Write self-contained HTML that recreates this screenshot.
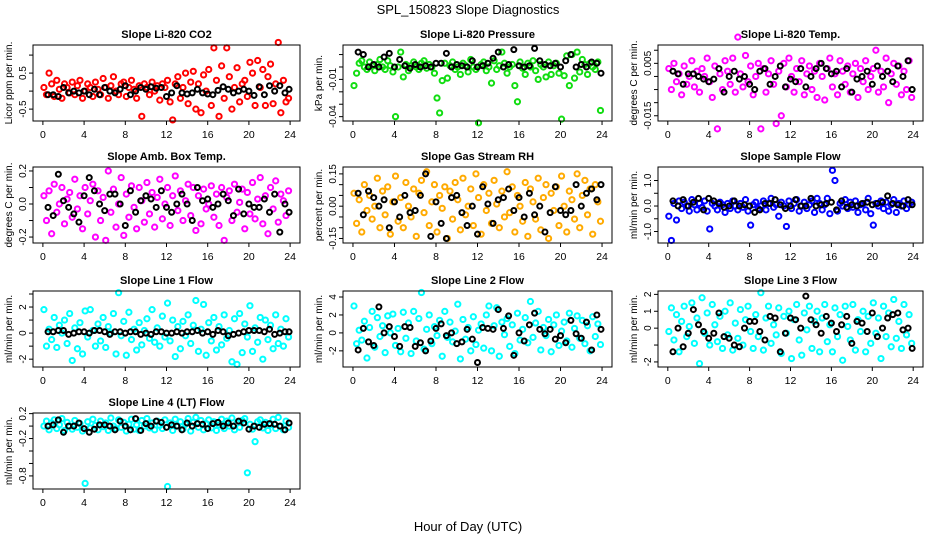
<!DOCTYPE html>
<html><head><meta charset="utf-8"><style>
html,body{margin:0;padding:0;background:#fff;}
svg{display:block;font-family:"Liberation Sans",sans-serif;}
</style></head><body>
<svg id="chart" width="936" height="540" viewBox="0 0 936 540" xmlns="http://www.w3.org/2000/svg">
<text x="468" y="14" font-size="13" text-anchor="middle">SPL_150823  Slope Diagnostics</text>
<text x="468" y="531" font-size="13" text-anchor="middle">Hour of Day (UTC)</text>
</svg>
<script>
const hoursColor = [0.1,0.35,0.6,0.85,1.1,1.35,1.6,1.85,2.1,2.35,2.6,2.85,3.1,3.35,3.6,3.85,4.1,4.35,4.6,4.85,5.1,5.35,5.6,5.85,6.1,6.35,6.6,6.85,7.1,7.35,7.6,7.85,8.1,8.35,8.6,8.85,9.1,9.35,9.6,9.85,10.1,10.35,10.6,10.85,11.1,11.35,11.6,11.85,12.1,12.35,12.6,12.85,13.1,13.35,13.6,13.85,14.1,14.35,14.6,14.85,15.1,15.35,15.6,15.85,16.1,16.35,16.6,16.85,17.1,17.35,17.6,17.85,18.1,18.35,18.6,18.85,19.1,19.35,19.6,19.85,20.1,20.35,20.6,20.85,21.1,21.35,21.6,21.85,22.1,22.35,22.6,22.85,23.1,23.35,23.6,23.85];
const hoursBlack = [0.5,1.0,1.5,2.0,2.5,3.0,3.5,4.0,4.5,5.0,5.5,6.0,6.5,7.0,7.5,8.0,8.5,9.0,9.5,10.0,10.5,11.0,11.5,12.0,12.5,13.0,13.5,14.0,14.5,15.0,15.5,16.0,16.5,17.0,17.5,18.0,18.5,19.0,19.5,20.0,20.5,21.0,21.5,22.0,22.5,23.0,23.5,23.9];
const xTicks = [0,4,8,12,16,20,24];

const co2C = [0.1,-0.1,0.5,0.2,-0.15,0.3,0.05,-0.2,0.2,0.1,-0.05,0.25,-0.1,0.15,0.3,-0.2,0.0,0.2,0.1,-0.15,0.25,0.05,-0.1,0.35,0.1,-0.2,0.15,0.4,0.0,-0.1,0.2,0.25,-0.15,0.1,0.3,0.05,-0.2,0.15,-0.7,0.2,0.1,-0.1,0.25,0.0,0.15,-0.25,0.2,0.1,0.3,-0.3,-0.8,0.2,0.4,-0.2,0.1,0.5,-0.35,0.25,0.55,-0.5,0.2,-0.6,0.45,0.0,0.6,-0.4,1.2,0.3,-0.7,0.7,-0.2,1.2,0.4,-0.5,0.1,0.65,-0.3,0.2,0.3,-0.15,0.8,0.5,-0.4,0.85,0.1,0.6,-0.4,0.4,0.75,-0.35,0.2,1.35,-0.6,0.3,-0.3,-0.2];
const co2B = [-0.1,-0.1,-0.15,0.1,-0.05,0.0,-0.05,0.0,-0.1,0.05,-0.1,0.1,0.0,-0.05,0.05,0.15,-0.1,0.0,0.1,0.05,0.12,0.08,0.1,-0.15,-0.05,0.15,-0.05,-0.08,-0.05,0.05,-0.05,-0.08,-0.1,0.02,0.12,0.05,-0.05,0.0,0.05,0.0,-0.12,0.12,-0.1,0.15,0.0,0.15,-0.05,0.05];
const presC = [-0.015,-0.005,0.003,0.005,0.0,-0.002,0.004,0.001,-0.003,0.002,0.006,0.0,-0.002,0.005,0.001,-0.004,-0.04,0.0,0.012,-0.008,0.002,-0.003,0.001,0.004,0.0,-0.002,0.003,0.005,-0.001,0.002,0.0,-0.005,-0.025,-0.037,-0.011,0.003,-0.009,0.001,0.004,-0.002,0.0,-0.006,0.003,0.001,-0.004,0.006,0.0,-0.002,-0.045,0.002,0.004,-0.003,0.0,-0.013,0.005,-0.002,0.001,0.012,0.003,-0.005,0.0,0.002,-0.015,-0.028,0.004,-0.001,-0.006,0.003,0.0,0.005,-0.003,-0.01,0.002,0.0,-0.008,0.004,-0.006,0.001,0.003,-0.005,-0.042,-0.007,0.009,-0.015,0.01,-0.009,0.012,-0.004,0.006,0.002,-0.006,0.003,0.0,-0.002,0.004,-0.035];
const presB = [0.012,0.01,0.0,0.002,0.0,0.008,0.011,0.0,0.006,0.001,-0.001,0.002,0.0,0.001,0.0,0.003,0.003,0.011,0.0,0.002,0.001,0.0,0.005,0.0,0.001,0.003,0.007,0.012,0.0,0.002,0.014,0.001,0.0,0.001,0.015,0.005,0.002,0.001,0.003,0.0,0.005,0.01,0.0,0.002,0.0,0.004,0.003,-0.005];
const tempC = [0.003,-0.005,0.005,-0.002,0.001,-0.007,0.004,-0.003,0.0,0.006,-0.004,0.002,-0.006,0.003,0.0,0.007,-0.002,-0.008,0.004,-0.02,0.001,-0.005,0.006,0.002,-0.003,0.007,-0.006,0.015,0.001,-0.004,0.008,-0.002,0.004,-0.007,0.0,0.005,-0.02,0.003,-0.006,0.001,0.006,-0.003,-0.018,0.002,-0.015,0.005,-0.004,0.007,0.0,-0.006,0.003,-0.002,0.006,-0.007,0.001,0.004,-0.005,0.002,-0.008,0.005,0.0,-0.009,0.003,0.007,-0.004,0.001,-0.007,0.006,0.002,-0.003,0.004,-0.006,0.001,0.005,-0.008,0.003,-0.002,0.006,-0.005,0.0,0.003,0.01,-0.006,0.002,-0.004,0.007,-0.01,0.001,0.005,-0.003,0.004,-0.007,0.002,-0.005,0.006,-0.008];
const tempB = [0.002,0.001,-0.003,0.001,0.001,0.0,-0.001,-0.002,-0.001,0.003,-0.006,0.0,0.002,-0.001,0.0,-0.003,-0.005,0.002,0.003,-0.003,0.0,0.004,-0.004,-0.001,-0.002,0.003,-0.004,0.0,0.003,0.005,0.003,0.001,0.002,-0.004,0.003,-0.006,-0.001,0.0,0.002,-0.003,0.004,0.0,0.002,-0.002,0.004,0.0,0.006,-0.005];
const ambC = [0.05,-0.1,0.08,-0.18,0.12,-0.05,0.0,0.1,-0.12,0.03,0.07,-0.08,0.15,-0.03,0.05,-0.15,0.1,-0.06,0.02,0.12,-0.2,0.08,-0.1,0.04,-0.22,0.2,-0.05,0.09,-0.14,0.0,0.16,-0.19,0.06,-0.08,0.11,-0.02,-0.15,0.1,0.02,-0.11,0.13,-0.06,0.07,-0.14,0.04,0.15,-0.09,0.0,0.1,-0.13,0.05,0.17,-0.04,0.08,-0.1,0.02,0.12,-0.07,0.1,-0.16,0.05,-0.12,0.09,-0.03,0.0,0.11,-0.08,0.06,-0.13,0.1,-0.22,0.04,0.08,-0.1,0.12,-0.05,0.01,0.09,-0.15,0.07,-0.06,0.13,-0.09,0.03,0.16,-0.12,0.05,-0.18,0.1,-0.03,0.14,-0.11,0.06,0.02,-0.07,0.08];
const ambB = [-0.02,-0.07,0.18,0.02,-0.02,-0.06,-0.11,0.05,0.16,0.08,0.0,-0.04,0.06,0.06,0.0,-0.13,0.08,-0.05,0.02,0.05,0.03,-0.02,0.08,-0.02,-0.05,0.0,0.06,0.0,-0.1,0.1,0.02,0.03,-0.02,0.0,0.06,0.02,-0.07,0.09,-0.06,0.0,-0.02,-0.02,0.03,-0.05,0.06,-0.17,0.0,-0.05];
const rhC = [0.06,-0.08,0.03,-0.12,0.1,-0.02,0.05,-0.06,0.0,0.13,-0.1,0.07,-0.04,0.09,-0.13,0.02,0.14,-0.07,0.04,-0.1,0.11,0.0,-0.05,0.08,-0.14,0.06,0.12,-0.03,0.16,-0.09,0.02,0.1,-0.12,0.05,-0.01,0.09,-0.15,0.07,-0.06,0.11,0.03,-0.11,0.13,-0.04,0.0,0.08,-0.09,0.15,0.04,-0.13,0.1,-0.02,0.06,-0.08,0.12,0.01,-0.1,0.07,-0.05,0.16,-0.03,0.09,-0.12,0.05,0.0,-0.07,0.11,-0.14,0.08,0.02,-0.06,0.13,-0.11,0.04,0.1,-0.15,0.06,-0.02,0.09,-0.09,0.14,0.0,-0.12,0.07,0.03,-0.06,0.15,-0.1,0.05,0.12,-0.04,0.08,-0.13,0.1,0.02,-0.07];
const rhB = [0.06,-0.04,0.07,0.04,0.0,0.03,-0.1,0.02,-0.05,0.05,-0.03,-0.02,0.05,0.15,-0.14,0.02,-0.08,-0.15,0.04,0.05,-0.03,-0.09,0.0,-0.13,0.09,0.01,-0.08,0.03,0.04,0.08,-0.02,0.04,-0.05,0.06,-0.04,0.0,-0.12,-0.03,0.09,-0.02,-0.04,-0.02,0.1,0.0,0.06,0.08,0.03,0.1];
const flowC = [-0.4,-1.35,0.1,-0.55,0.2,-0.1,0.15,0.0,-0.2,0.25,0.05,-0.15,0.1,-0.05,0.2,-0.2,-0.9,0.1,0.0,-0.15,0.15,0.05,-0.25,0.1,-0.1,0.2,0.0,-0.15,0.1,-0.05,0.25,-0.2,-0.75,0.05,0.15,-0.1,0.0,0.2,-0.15,0.1,0.3,-0.05,0.05,-0.4,0.15,0.0,-0.8,0.2,-0.1,0.1,0.25,-0.2,0.0,0.15,-0.1,0.05,0.2,-0.25,0.3,0.1,-0.15,0.05,0.3,-0.3,1.4,1.0,-0.2,0.1,0.0,0.25,-0.1,0.15,-0.05,0.2,-0.25,0.05,0.1,-0.15,0.3,-0.3,-0.75,0.1,0.0,0.2,-0.1,0.15,-0.2,0.05,0.25,-0.25,0.1,0.0,0.2,-0.1,0.05,0.15];
const flowB = [0.2,0.0,0.25,0.0,0.15,0.3,-0.15,0.3,0.2,0.1,-0.05,0.0,0.2,0.0,0.05,0.0,-0.25,-0.15,0.1,0.1,0.25,0.05,-0.1,0.0,0.25,0.0,0.0,0.3,0.0,0.05,0.1,0.15,-0.15,0.2,-0.05,0.05,0.0,0.1,0.15,0.05,0.1,0.15,0.4,0.1,0.05,0.0,0.25,0.05];
const l1C = [1.8,-1.0,0.3,-0.5,1.2,-1.1,0.6,0.0,1.0,-0.8,1.5,-2.1,0.4,-1.2,0.8,-1.6,1.7,-0.3,1.8,0.2,-1.0,0.7,-0.6,1.2,-1.1,0.5,0.0,1.5,-1.6,3.1,-0.2,0.9,-1.7,1.6,-0.5,0.3,-1.3,0.8,-0.9,0.2,1.1,-0.4,1.8,-0.7,0.4,-1.0,1.3,-0.3,2.3,-0.6,1.0,-1.8,0.5,-1.2,0.9,-0.2,1.4,-0.8,0.6,2.5,-1.4,0.3,2.2,-1.7,0.8,-0.6,1.2,-1.3,0.5,-0.9,1.4,-0.4,0.2,-2.2,1.1,-2.4,1.5,-1.5,0.7,-0.3,2.1,-1.4,0.4,-0.7,1.2,-2.0,1.0,-0.5,0.6,-1.2,1.4,-0.8,0.3,-1.0,1.1,-0.3];
const l1B = [0.1,0.1,0.2,0.2,-0.1,0.0,0.1,0.1,0.0,0.2,0.2,0.1,-0.1,0.1,0.1,0.0,0.1,0.1,-0.1,0.0,-0.1,0.1,0.1,0.0,0.0,0.1,0.0,0.1,0.1,0.2,0.0,0.1,-0.1,0.2,0.1,-0.2,-0.1,0.0,0.1,0.2,0.2,0.2,0.1,0.3,-0.1,0.0,0.1,0.1];
const l2C = [3.0,-1.2,0.3,-0.8,1.3,-2.8,0.6,2.4,-1.6,1.7,-0.4,0.8,-2.2,1.9,0.0,2.1,-1.4,0.5,-2.1,2.3,-0.6,1.1,-2.3,2.4,-0.9,1.6,4.5,-1.8,0.4,2.0,-1.2,0.7,-0.3,1.4,-2.6,2.4,-0.5,1.2,-1.0,0.2,3.2,-2.9,1.5,-0.7,0.6,-2.0,1.8,-1.3,0.3,1.0,-1.7,2.0,3.0,-2.0,0.8,2.8,-2.6,1.2,-0.2,1.6,-1.5,0.9,-2.3,2.2,-0.8,0.4,1.7,-1.1,3.5,-0.5,1.1,2.4,-1.9,0.6,-0.3,1.5,-2.1,0.9,2.0,-1.4,0.2,1.2,-0.9,2.2,-1.6,0.5,1.9,-0.6,1.4,-1.2,0.8,-2.0,1.8,-0.4,1.0,-1.3];
const l2B = [-1.9,0.5,-1.0,-1.4,2.9,0.0,0.7,-0.4,-1.5,0.7,0.6,-1.5,-1.1,-2.0,-0.9,0.5,1.0,-0.3,0.0,-1.2,-1.0,0.4,-0.7,-3.3,0.6,0.5,0.4,2.6,0.5,1.9,-2.5,0.0,-0.9,0.9,2.2,0.4,-0.1,0.4,-0.7,-0.3,-1.1,1.4,-0.1,-0.6,1.2,-1.9,2.0,0.4];
const l3C = [-0.2,1.2,-0.7,0.8,-1.4,0.4,1.3,-0.5,0.1,1.5,-0.9,0.6,-2.1,1.8,-0.3,0.9,-1.0,1.4,0.2,-0.8,0.7,-1.2,1.0,-0.4,1.5,-1.3,0.3,-0.6,1.1,-1.0,0.5,1.3,-0.2,-1.2,0.8,-0.5,2.1,-1.3,0.6,1.3,-0.9,0.2,-0.4,1.2,-1.5,0.7,-0.3,1.0,-1.8,0.5,1.4,-0.7,-1.6,0.9,-0.1,1.3,-1.2,0.4,1.0,-1.4,0.6,1.4,-0.8,0.2,-1.4,1.2,-0.5,0.8,-1.9,1.3,0.1,-0.7,1.4,-1.3,0.5,-0.2,1.0,-1.4,0.7,-0.9,1.5,-0.3,0.6,-1.8,1.3,-0.5,0.9,-1.1,1.7,-0.6,0.4,-1.2,1.4,-0.4,0.8,-0.9];
const l3B = [-1.4,0.0,-1.1,-0.3,1.1,0.2,-0.2,-0.6,-0.3,0.9,-0.5,-0.6,-1.0,-1.1,0.0,0.4,0.4,-0.2,-0.7,0.7,0.6,-1.4,-0.3,0.6,0.5,0.0,1.9,0.5,0.2,-0.3,0.7,0.3,-0.2,0.2,0.7,-0.9,0.4,0.3,-0.2,0.9,-0.5,0.0,0.6,0.8,0.9,-0.1,0.0,-1.2];
const l4C = [0.0,0.08,-0.06,0.05,0.1,-0.04,0.02,0.12,-0.07,0.06,0.0,-0.05,0.09,-0.02,0.04,-0.08,-0.92,0.07,-0.03,0.11,0.01,-0.06,0.08,-0.01,0.05,-0.07,0.13,0.0,-0.04,0.1,-0.02,0.06,-0.08,0.03,0.11,-0.05,0.02,-0.07,0.09,0.0,0.12,-0.03,0.05,-0.06,0.08,0.01,-0.04,0.1,-0.97,0.05,-0.07,0.11,0.0,0.07,-0.05,0.03,0.12,-0.08,0.06,0.14,-0.02,0.09,-0.06,0.04,0.1,-0.03,0.07,-0.07,0.02,0.11,-0.04,0.08,0.0,0.13,-0.06,0.05,-0.02,0.09,0.12,-0.75,0.03,-0.05,-0.25,0.07,0.1,-0.03,0.06,-0.07,0.02,0.11,-0.04,0.14,0.0,-0.06,0.08,-0.02];
const l4B = [0.0,0.02,0.1,-0.1,0.0,0.0,0.05,-0.04,-0.1,-0.05,0.02,0.02,0.0,-0.06,0.08,0.0,-0.06,0.12,-0.07,0.04,0.0,0.08,0.06,-0.02,0.02,0.0,-0.06,0.05,0.0,0.04,0.03,-0.04,0.04,0.06,0.0,0.05,0.0,0.08,0.05,-0.05,0.0,-0.02,0.03,0.04,0.03,0.0,-0.06,0.05];

const co2Ticks=[-0.5,0,0.5,1.0], co2Labels=["-0.5","","0.5",""];
const presTicks=[0.01,0,-0.01,-0.02,-0.03,-0.04], presLabels=["","","-0.01","","","-0.04"];
const tempTicks=[0.01,0.005,0,-0.005,-0.01,-0.015], tempLabels=["","0.005","","","","-0.015"];
const ambTicks=[0.2,0.1,0,-0.1,-0.2], ambLabels=["0.2","","0.0","","-0.2"];
const rhTicks=[0.15,0.1,0.05,0,-0.05,-0.1,-0.15], rhLabels=["0.15","","","0.00","","","-0.15"];
const flowTicks=[1.0,0.5,0,-0.5,-1.0], flowLabels=["1.0","","0.0","","-1.0"];
const l1Ticks=[3,2,1,0,-1,-2], l1Labels=["","2","","0","","-2"];
const l2Ticks=[4,2,0,-2], l2Labels=["4","2","0","-2"];
const l3Ticks=[2,1,0,-1,-2], l3Labels=["2","1","0","","-2"];
const l4Ticks=[0.2,0,-0.2,-0.4,-0.6,-0.8], l4Labels=["0.2","","-0.2","","","-0.8"];

const NS="http://www.w3.org/2000/svg";
const svg=document.getElementById('chart');
const colX=[33,343,658], colW=[267,269,265];
const rowY=[45,167,291,413], H=76;
const panels=[
 {id:'co2',title:'Slope Li-820 CO2',ylab:'Licor ppm per min.',ylim:[-0.83,1.28],ticks:co2Ticks,labels:co2Labels,c:co2C,b:co2B,col:'#ff0000',r:0,k:0},
 {id:'pressure',title:'Slope Li-820 Pressure',ylab:'kPa per min.',ylim:[-0.0435,0.0177],ticks:presTicks,labels:presLabels,c:presC,b:presB,col:'#11dd11',r:0,k:1},
 {id:'li820-temp',title:'Slope Li-820 Temp.',ylab:'degrees C per min.',ylim:[-0.017,0.012],ticks:tempTicks,labels:tempLabels,c:tempC,b:tempB,col:'#ff00ff',r:0,k:2},
 {id:'amb-box-temp',title:'Slope Amb. Box Temp.',ylab:'degrees C per min.',ylim:[-0.236,0.224],ticks:ambTicks,labels:ambLabels,c:ambC,b:ambB,col:'#ff00ff',r:1,k:0},
 {id:'gas-stream-rh',title:'Slope Gas Stream RH',ylab:'percent per min.',ylim:[-0.171,0.182],ticks:rhTicks,labels:rhLabels,c:rhC,b:rhB,col:'#ffaa00',r:1,k:1},
 {id:'sample-flow',title:'Slope Sample Flow',ylab:'ml/min per min.',ylim:[-1.45,1.53],ticks:flowTicks,labels:flowLabels,c:flowC,b:flowB,col:'#0000ff',r:1,k:2},
 {id:'line1-flow',title:'Slope Line 1 Flow',ylab:'ml/min per min.',ylim:[-2.6,3.23],ticks:l1Ticks,labels:l1Labels,c:l1C,b:l1B,col:'#00ffff',r:2,k:0},
 {id:'line2-flow',title:'Slope Line 2 Flow',ylab:'ml/min per min.',ylim:[-3.8,4.67],ticks:l2Ticks,labels:l2Labels,c:l2C,b:l2B,col:'#00ffff',r:2,k:1},
 {id:'line3-flow',title:'Slope Line 3 Flow',ylab:'ml/min per min.',ylim:[-2.3,2.2],ticks:l3Ticks,labels:l3Labels,c:l3C,b:l3B,col:'#00ffff',r:2,k:2},
 {id:'line4-flow',title:'Slope Line 4 (LT) Flow',ylab:'ml/min per min.',ylim:[-1.01,0.21],ticks:l4Ticks,labels:l4Labels,c:l4C,b:l4B,col:'#00ffff',r:3,k:0}
];
function mk(tag,attrs,parent){const e=document.createElementNS(NS,tag);for(const a in attrs)e.setAttribute(a,attrs[a]);(parent||svg).appendChild(e);return e;}
panels.forEach(p=>{
 const L=colX[p.k],W=colW[p.k],T=rowY[p.r];
 const xs=v=>L+(v+0.96)/25.92*W;
 const ys=v=>T+(p.ylim[1]-v)/(p.ylim[1]-p.ylim[0])*H;
 const g=mk('g',{});
 
 
 const t=mk('text',{x:L+W/2,y:T-7,'font-size':11,'font-weight':'bold','text-anchor':'middle'},g);
 t.textContent=p.title;
 
 
 const yl=mk('text',{x:0,y:0,'font-size':10,'text-anchor':'middle',transform:`translate(${L-21},${T+H/2}) rotate(-90)`},g);
 yl.textContent=p.ylab;
 
 
 const pts=mk('g',{fill:'none','stroke-width':2},g);
 
 
 p.c.forEach((v,i)=>{
  const c=mk('circle',{cx:xs(hoursColor[i]),cy:ys(v),r:2.6,stroke:p.col},pts);
  
  
 });
 p.b.forEach((v,i)=>{
  const c=mk('circle',{cx:xs(hoursBlack[i]),cy:ys(v),r:2.5,stroke:'#000'},pts);
  
  
 });
 const box=mk('rect',{x:L,y:T,width:W,height:H,fill:'none',stroke:'#000','stroke-width':1},g);
 
 
 xTicks.forEach(v=>{
  mk('line',{x1:xs(v),x2:xs(v),y1:T+H,y2:T+H+4,stroke:'#000'},g);
  const tl=mk('text',{x:xs(v),y:T+H+17,'font-size':10.5,'text-anchor':'middle'},g);
  tl.textContent=String(v);
  
  
 });
 p.ticks.forEach((v,i)=>{
  mk('line',{x1:L-4,x2:L,y1:ys(v),y2:ys(v),stroke:'#000'},g);
  if(p.labels[i]){
   const tl=mk('text',{x:0,y:0,'font-size':10,'text-anchor':'middle',transform:`translate(${L-7},${ys(v)}) rotate(-90)`},g);
   tl.textContent=p.labels[i];
   
   
  }
 });
});
</script>
</body></html>
